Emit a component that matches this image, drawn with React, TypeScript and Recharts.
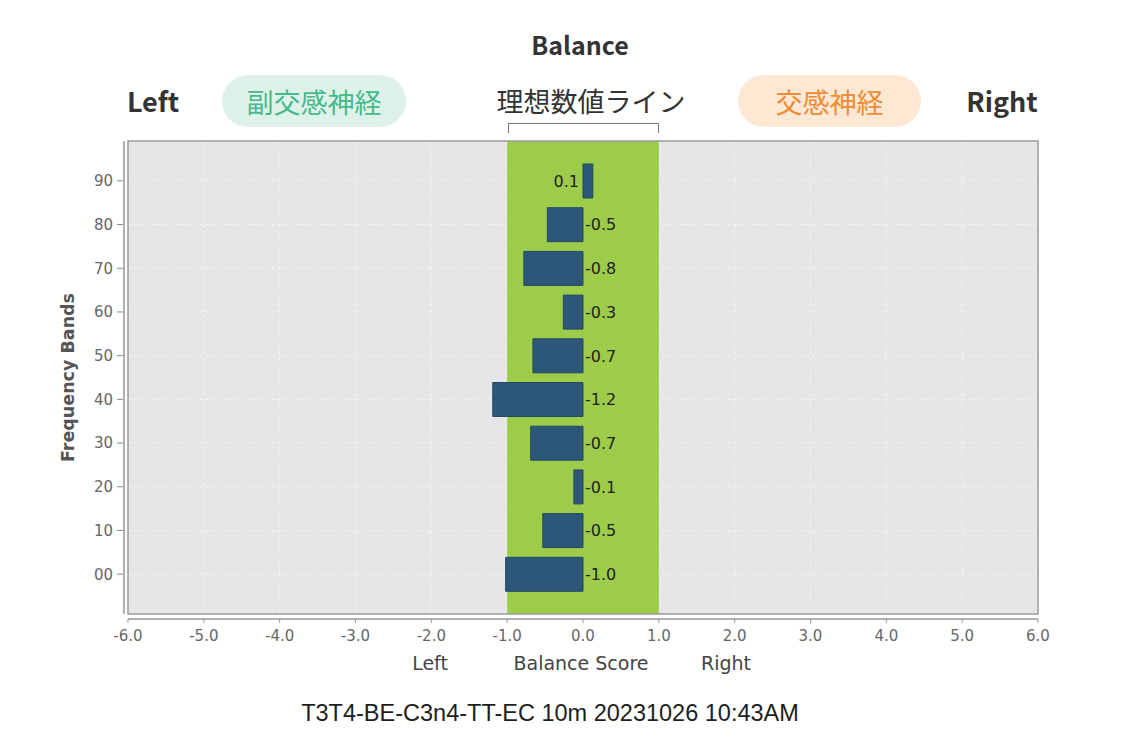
import { Bar, BarChart, CartesianGrid, LabelList, ReferenceArea, XAxis, YAxis } from "recharts";

const bands = ["00", "10", "20", "30", "40", "50", "60", "70", "80", "90"];
const scores = [-1.02, -0.53, -0.12, -0.69, -1.19, -0.66, -0.26, -0.78, -0.47, 0.13];
const xTicks = [-6, -5, -4, -3, -2, -1, 0, 1, 2, 3, 4, 5, 6];
const idealRange = [-1, 1];
const footer = "T3T4-BE-C3n4-TT-EC 10m 20231026 10:43AM";

const data = bands.map((band, i) => ({ band, score: scores[i] }));
const frameTop = bands.length - 1;

const JP = '"Noto Sans CJK JP", "Noto Sans", sans-serif';
const AXIS_FONT = '"DejaVu Sans", sans-serif';

function centered(x: number, y: number, w: number, h: number): React.CSSProperties {
  return {
    position: "absolute",
    left: x,
    top: y,
    width: w,
    height: h,
    display: "flex",
    alignItems: "center",
    justifyContent: "center",
    whiteSpace: "nowrap",
  };
}

function ScoreLabel(props: any) {
  const { x, y, width, height, value } = props;
  const zero = value < 0 ? Math.max(x, x + width) : Math.min(x, x + width);
  const neg = value < 0;
  return (
    <text
      x={neg ? zero + 2 : zero - 4}
      y={y + height / 2}
      dy="0.36em"
      textAnchor={neg ? "start" : "end"}
      fontSize={16}
      fontFamily={AXIS_FONT}
      fill="#222"
    >
      {Number(value).toFixed(1)}
    </text>
  );
}

function YTick(props: any) {
  const { x, y, payload } = props;
  return (
    <g>
      <line x1={x - 3} x2={x + 3} y1={y} y2={y} stroke="#888" />
      <text x={x - 7} y={y} dy="0.36em" textAnchor="end" fontSize={15} fontFamily={AXIS_FONT} fill="#666">
        {payload.value}
      </text>
    </g>
  );
}

export default function App() {
  return (
    <div style={{ position: "absolute", left: 0, top: 0, width: 1128, height: 752, background: "#fff", fontFamily: JP }}>
      <div style={{ ...centered(480, 26, 200, 36), fontSize: 25, fontWeight: 700, color: "#333" }}>Balance</div>
      <div style={{ ...centered(100, 80, 106, 40), fontSize: 27, fontWeight: 700, color: "#333" }}>Left</div>
      <div style={{ ...centered(940, 80, 124, 40), fontSize: 27, fontWeight: 700, color: "#333" }}>Right</div>
      <div style={{ ...centered(222, 75, 184, 52), borderRadius: 26, background: "#def2ea", color: "#45b98b", fontSize: 27 }}>
        副交感神経
      </div>
      <div style={{ ...centered(738, 75, 183, 52), borderRadius: 26, background: "#fde8d3", color: "#f08a33", fontSize: 27 }}>
        交感神経
      </div>
      <div style={{ ...centered(478, 80, 226, 40), fontSize: 27, color: "#333" }}>理想数値ライン</div>
      <div
        style={{
          position: "absolute",
          left: 508,
          top: 123,
          width: 151,
          height: 10,
          borderTop: "1.5px solid #777",
          borderLeft: "1.5px solid #777",
          borderRight: "1.5px solid #777",
          boxSizing: "border-box",
        }}
      />

      <BarChart
        width={1128}
        height={752}
        data={data}
        layout="vertical"
        margin={{ top: 141, right: 90, bottom: 108, left: 0 }}
        style={{ position: "absolute", left: 0, top: 0 }}
      >
        <CartesianGrid fill="#e6e6e8" stroke="#ffffff" strokeOpacity={0.55} strokeDasharray="3 3" />
        <ReferenceArea
          x1={idealRange[0]}
          x2={idealRange[1]}
          yAxisId="frame"
          y1={0}
          y2={frameTop}
          fill="#9ccc4a"
          fillOpacity={1}
          stroke="none"
        />
        <ReferenceArea
          x1={xTicks[0]}
          x2={xTicks[xTicks.length - 1]}
          yAxisId="frame"
          y1={0}
          y2={frameTop}
          fill="none"
          stroke="#9a9a9a"
          strokeWidth={1.5}
        />
        <XAxis
          type="number"
          domain={[xTicks[0], xTicks[xTicks.length - 1]]}
          ticks={xTicks}
          interval={0}
          height={30}
          tickFormatter={(v: number) => v.toFixed(1)}
          axisLine={{ stroke: "#999", strokeWidth: 1.5, transform: "translate(0,5)" } as any}
          tickLine={{ stroke: "#999", transform: "translate(0,5)" } as any}
          tickSize={4}
          tickMargin={12}
          tick={{ fontSize: 15, fill: "#666", fontFamily: AXIS_FONT }}
        />
        <YAxis
          type="category"
          dataKey="band"
          reversed
          width={128}
          padding={{ top: 18, bottom: 18 }}
          axisLine={{ stroke: "#999", strokeWidth: 1.5, transform: "translate(-4,0)" } as any}
          tickLine={false}
          tick={(p: any) => <YTick {...p} />}
          label={{
            content: (p: any) => {
              const vb = p.viewBox;
              const cx = 68;
              const cy = vb.y + vb.height / 2;
              return (
                <text
                  x={cx}
                  y={cy}
                  transform={`rotate(-90, ${cx}, ${cy})`}
                  textAnchor="middle"
                  dy="0.36em"
                  fontSize={17.5}
                  fontWeight={700}
                  fontFamily={AXIS_FONT}
                  fill="#555"
                >
                  Frequency Bands
                </text>
              );
            },
          }}
        />
        <YAxis yAxisId="frame" type="number" domain={[0, frameTop]} allowDataOverflow hide />
        <Bar dataKey="score" barSize={34} fill="#2c5778" stroke="#234a66" strokeWidth={1} isAnimationActive={false}>
          <LabelList dataKey="score" content={ScoreLabel} />
        </Bar>
      </BarChart>

      <div style={{ ...centered(380, 650, 100, 26), fontFamily: AXIS_FONT, fontSize: 19, color: "#444" }}>Left</div>
      <div style={{ ...centered(480, 650, 202, 26), fontFamily: AXIS_FONT, fontSize: 19, color: "#444" }}>Balance Score</div>
      <div style={{ ...centered(676, 650, 100, 26), fontFamily: AXIS_FONT, fontSize: 19, color: "#444" }}>Right</div>
      <div style={{ ...centered(200, 698, 700, 30), fontFamily: '"Liberation Sans", Arial, sans-serif', fontSize: 23.5, color: "#1e1e1e" }}>
        {footer}
      </div>
    </div>
  );
}
